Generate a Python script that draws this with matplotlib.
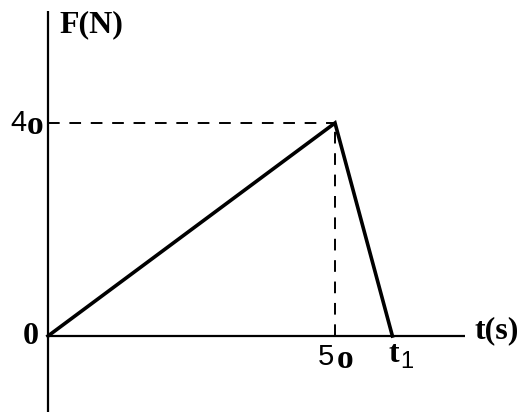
import matplotlib
matplotlib.use("Agg")
import matplotlib.pyplot as plt

# data
t_vals = [0, 50, 60]
F_vals = [0, 40, 0]
peak_t, peak_F = 50, 40

fig = plt.figure(figsize=(5.2, 4.12), dpi=100)
ax = fig.add_axes([0, 0, 1, 1])
sx, sy = 5.74, 5.325
ox, oy = 48, 336
ax.set_xlim(-ox / sx, (520 - ox) / sx)
ax.set_ylim(-(412 - oy) / sy, oy / sy)
ax.axis("off")

# axes lines
ax.plot([0, 0], [-(412 - oy) / sy, (oy - 11) / sy], color="black", lw=1.6, solid_capstyle="butt")
ax.plot([0, (465 - ox) / sx], [0, 0], color="black", lw=1.6, solid_capstyle="butt")

# dashed guides
ax.plot([0, peak_t], [peak_F, peak_F], color="black", lw=1.4, dashes=(6, 5))
ax.plot([peak_t, peak_t], [0, peak_F], color="black", lw=1.4, dashes=(6, 5))

# main line
ax.plot(t_vals, F_vals, color="black", lw=2.6, solid_joinstyle="miter")

serif = "Liberation Serif"
sans = "Liberation Sans"
ax.text((59 - ox) / sx, (336 - 25) / sy, "F(N)", fontfamily=serif, fontweight="bold", fontsize=23, ha="left", va="center")
ax.text((474 - ox) / sx, (336 - 331) / sy, "t(s)", fontfamily=serif, fontweight="bold", fontsize=23, ha="left", va="center")

ax.text((31 - ox) / sx, 0, "0", fontfamily=serif, fontweight="bold", fontsize=23, ha="center", va="center")

# 40 label
ax.text((26 - ox) / sx, (336 - 123) / sy, "4", fontfamily=sans, fontsize=21, ha="right", va="center")
ax.text((27 - ox) / sx, (336 - 125) / sy, "o", fontfamily=serif, fontweight="bold", fontsize=24, ha="left", va="center")

# 50 label
ax.text((334 - ox) / sx, (336 - 357) / sy, "5", fontfamily=sans, fontsize=21, ha="right", va="center")
ax.text((337 - ox) / sx, (336 - 359) / sy, "o", fontfamily=serif, fontweight="bold", fontsize=24, ha="left", va="center")

# t1 label
ax.text((394 - ox) / sx, (336 - 354) / sy, "t", fontfamily=serif, fontweight="bold", fontsize=23, ha="center", va="center")
ax.text((400 - ox) / sx, (336 - 362) / sy, "1", fontfamily=sans, fontsize=17, ha="left", va="center")

fig.savefig("out.png", dpi=100)
